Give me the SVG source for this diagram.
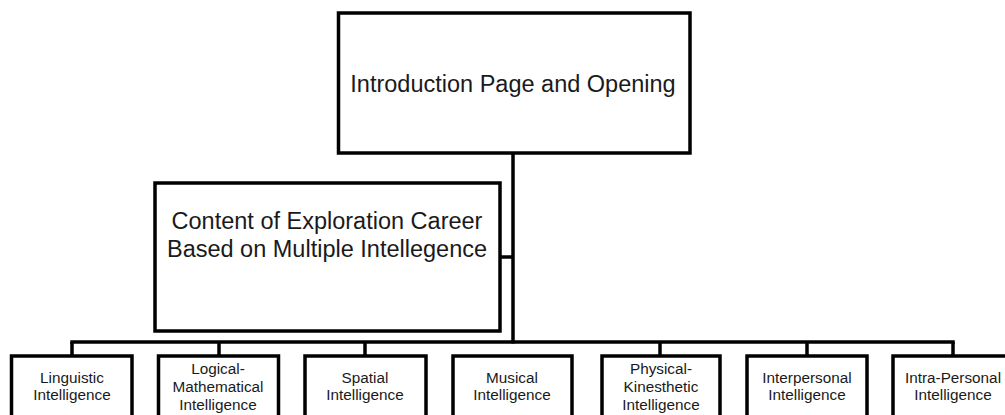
<svg xmlns="http://www.w3.org/2000/svg" width="1005" height="415" viewBox="0 0 1005 415">
<style>
.box{fill:#fff;stroke:#000;stroke-width:3.5}
.conn{fill:none;stroke:#000;stroke-width:3.5}
.big{font-family:"Liberation Sans",Arial,sans-serif;font-size:23.5px;fill:#1a1a1a;text-anchor:middle}
.sm{font-family:"Liberation Sans",Arial,sans-serif;font-size:15.3px;fill:#1a1a1a;text-anchor:middle}
</style>
<rect width="1005" height="415" fill="#fff"/>
<g id="connectors">
<line class="conn" x1="513" y1="153" x2="513" y2="343.5"/>
<line class="conn" x1="500" y1="257" x2="513" y2="257"/>
<line class="conn" x1="70.25" y1="342" x2="954.75" y2="342"/>
<line class="conn" x1="72" y1="342" x2="72" y2="356"/>
<line class="conn" x1="219" y1="342" x2="219" y2="356"/>
<line class="conn" x1="365" y1="342" x2="365" y2="356"/>
<line class="conn" x1="660" y1="342" x2="660" y2="356"/>
<line class="conn" x1="807" y1="342" x2="807" y2="356"/>
<line class="conn" x1="953" y1="342" x2="953" y2="356"/>
</g>
<g id="intro">
<rect class="box" x="338.5" y="13" width="351.5" height="140"/>
<text class="big" x="513" y="92">Introduction Page and Opening</text>
</g>
<g id="content">
<rect class="box" x="155" y="183" width="345" height="148"/>
<text class="big" x="327" y="229">Content of Exploration Career</text>
<text class="big" x="327" y="257">Based on Multiple Intellegence</text>
</g>
<g id="linguistic">
<rect class="box" x="11.5" y="356" width="120.5" height="80"/>
<text class="sm" x="72" y="383">Linguistic</text>
<text class="sm" x="72" y="400">Intelligence</text>
</g>
<g id="logical">
<rect class="box" x="158.5" y="356" width="120" height="80"/>
<text class="sm" x="218" y="374">Logical-</text>
<text class="sm" x="218" y="392">Mathematical</text>
<text class="sm" x="218" y="410">Intelligence</text>
</g>
<g id="spatial">
<rect class="box" x="305" y="356" width="121" height="80"/>
<text class="sm" x="365" y="383">Spatial</text>
<text class="sm" x="365" y="400">Intelligence</text>
</g>
<g id="musical">
<rect class="box" x="453" y="356" width="119" height="80"/>
<text class="sm" x="512" y="383">Musical</text>
<text class="sm" x="512" y="400">Intelligence</text>
</g>
<g id="physical">
<rect class="box" x="602" y="356" width="118" height="80"/>
<text class="sm" x="661" y="374">Physical-</text>
<text class="sm" x="661" y="392">Kinesthetic</text>
<text class="sm" x="661" y="410">Intelligence</text>
</g>
<g id="interpersonal">
<rect class="box" x="747" y="356" width="120" height="80"/>
<text class="sm" x="807" y="383">Interpersonal</text>
<text class="sm" x="807" y="400">Intelligence</text>
</g>
<g id="intrapersonal">
<rect class="box" x="893" y="356" width="121" height="80"/>
<text class="sm" x="953" y="383">Intra-Personal</text>
<text class="sm" x="953" y="400">Intelligence</text>
</g>
</svg>
